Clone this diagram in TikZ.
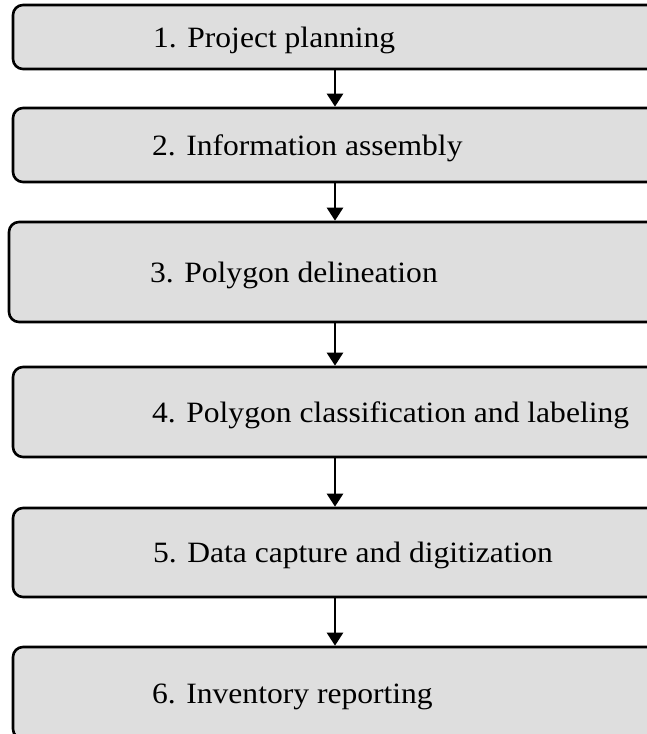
\documentclass[tikz,border=0pt]{standalone}
\usepackage{fontspec}
\setmainfont{Liberation Serif}
\usetikzlibrary{arrows.meta}
\definecolor{boxfill}{RGB}{222,222,222}
\tikzset{
  stepbox/.style={draw=black, line width=2.6pt, fill=boxfill, rounded corners=10pt, rectangle, inner sep=0pt},
  steptext/.style={anchor=base west, inner sep=0pt, font=\fontsize{29.5}{32}\selectfont},
  flowarrow/.style={draw=black, line width=2.4pt, -{Triangle[width=16pt,length=13pt]}}
}
\newcommand{\wide}[1]{\scalebox{1.07}[1]{#1}}
\begin{document}
\begin{tikzpicture}[x=1pt,y=-1pt]
\useasboundingbox (0,0) rectangle (647,734);
\clip (0,0) rectangle (647,734);
\node[stepbox, minimum width=644pt, minimum height=64pt] (b1) at (335,37) {};
\node[stepbox, minimum width=644pt, minimum height=74pt] (b2) at (335,145) {};
\node[stepbox, minimum width=652pt, minimum height=100pt] (b3) at (335,272) {};
\node[stepbox, minimum width=644pt, minimum height=90pt] (b4) at (335,412) {};
\node[stepbox, minimum width=644pt, minimum height=89pt] (b5) at (335,552.5) {};
\node[stepbox, minimum width=644pt, minimum height=92pt] (b6) at (335,693) {};
\node[steptext] (t1) at (153,47) {\wide{1. Project planning}};
\node[steptext] (t2) at (152,155) {\wide{2. Information assembly}};
\node[steptext] (t3) at (150,282) {\wide{3. Polygon delineation}};
\node[steptext] (t4) at (152,422) {\wide{4. Polygon classification and labeling}};
\node[steptext] (t5) at (153,562.5) {\wide{5. Data capture and digitization}};
\node[steptext] (t6) at (152,703) {\wide{6. Inventory reporting}};
\draw[flowarrow] (b1.south) -- (b2.north);
\draw[flowarrow] (b2.south) -- (b3.north);
\draw[flowarrow] (b3.south) -- (b4.north);
\draw[flowarrow] (b4.south) -- (b5.north);
\draw[flowarrow] (b5.south) -- (b6.north);
\end{tikzpicture}
\end{document}
